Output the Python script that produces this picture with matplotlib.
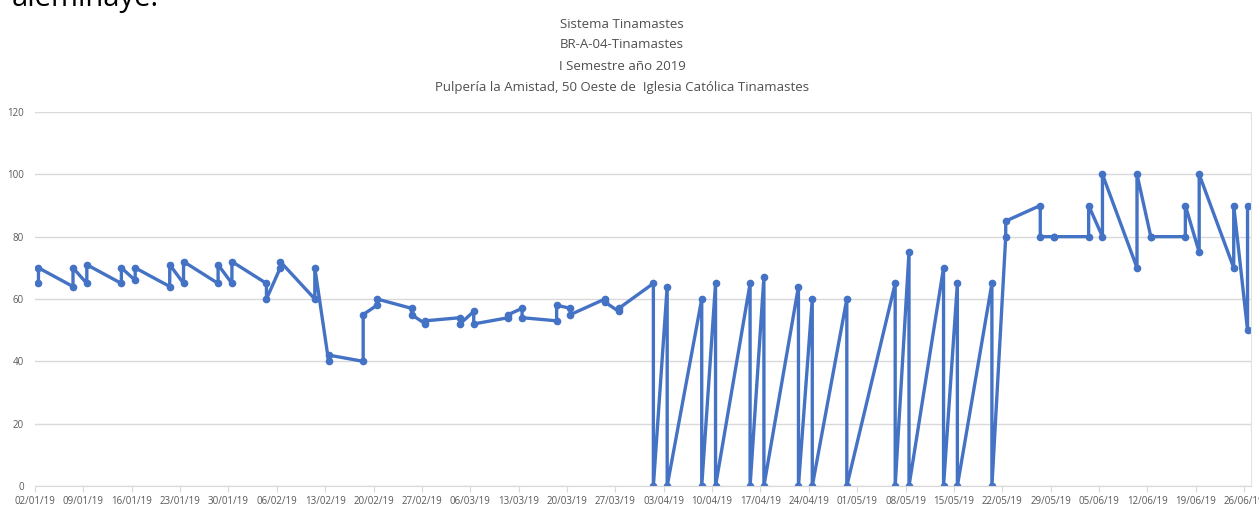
import numpy as np
import pandas as pd
import matplotlib
matplotlib.use('Agg')
import matplotlib.pyplot as plt
import matplotlib.dates as mdates

# two readings per visit day (first, second)
visit_days = ['02/01/19', '07/01/19', '09/01/19', '14/01/19', '16/01/19', '21/01/19',
              '23/01/19', '28/01/19', '30/01/19', '04/02/19', '06/02/19', '11/02/19',
              '13/02/19', '18/02/19', '20/02/19', '25/02/19', '27/02/19', '04/03/19',
              '06/03/19', '11/03/19', '13/03/19', '18/03/19', '20/03/19', '25/03/19',
              '27/03/19', '01/04/19', '03/04/19', '08/04/19', '10/04/19', '15/04/19',
              '17/04/19', '22/04/19', '24/04/19', '29/04/19', '06/05/19', '08/05/19',
              '13/05/19', '15/05/19', '20/05/19', '22/05/19', '27/05/19', '29/05/19',
              '03/06/19', '05/06/19', '10/06/19', '12/06/19', '17/06/19', '19/06/19',
              '24/06/19', '26/06/19']
first_reading = [65, 64, 65, 65, 66, 64, 65, 65, 65, 65, 70, 60,
                 40, 40, 58, 57, 52, 54, 56, 54, 57, 53, 57, 60,
                 56, 65, 64, 60, 65, 65, 67, 64, 60, 60, 65, 75,
                 70, 65, 65, 80, 90, 80, 80, 80, 70, 80, 80, 75,
                 70, 50]
second_reading = [70, 70, 71, 70, 70, 71, 72, 71, 72, 60, 72, 70,
                  42, 55, 60, 55, 53, 52, 52, 55, 54, 58, 55, 59,
                  57, 0, 0, 0, 0, 0, 0, 0, 0, 0, 0, 0,
                  0, 0, 0, 85, 80, 80, 90, 100, 100, 80, 90, 100,
                  90, 90]

titles = ['Sistema Tinamastes', 'BR-A-04-Tinamastes', 'I Semestre año 2019',
          'Pulpería la Amistad, 50 Oeste de  Iglesia Católica Tinamastes']

days = pd.to_datetime(visit_days, format='%d/%m/%y')
# Excel date axis puts each point in the middle of its day
x = np.repeat(days + pd.Timedelta(hours=12), 2)
y = np.column_stack([first_reading, second_reading]).ravel()

plt.rcParams['font.family'] = ['Open Sans', 'DejaVu Sans']

fig = plt.figure(figsize=(12.59, 5.09), dpi=100)
ax = fig.add_axes([35/1259, 1-486/509, (1251-35)/1259, (486-112)/509])

ax.plot(x, y, color='#4472C4', lw=2.4, marker='o', ms=4.5)

ax.set_ylim(0, 120)
ax.set_yticks(range(0, 121, 20))
ax.set_xlim(pd.Timestamp('2019-01-02'), pd.Timestamp('2019-06-27'))
ax.set_xticks(pd.date_range('2019-01-02', '2019-06-26', freq='7D'))
ax.xaxis.set_major_formatter(mdates.DateFormatter('%d/%m/%y'))

ax.grid(axis='y', color='#D9D9D9', lw=1)
ax.set_axisbelow(True)
for s in ['top', 'left']:
    ax.spines[s].set_visible(False)
ax.spines['bottom'].set_color('#D9D9D9')
ax.spines['right'].set_color('#E3E3E3')
ax.tick_params(axis='x', colors='#D9D9D9', labelcolor='#595959', labelsize=7, length=4, pad=3)
ax.tick_params(axis='y', length=0, labelcolor='#595959', labelsize=7, pad=8)

for i, t in enumerate(titles):
    fig.text(622/1259, 1-(24+21*i)/509, t, ha='center', va='center', fontsize=9.5, color='#4F4F4F')

# fragment of the document text cut at the top edge
fig.text(12/1259, 1-6/509, 'aleminaye:', ha='left', va='baseline', fontsize=21, color='black')

fig.savefig('out.png', dpi=100)
